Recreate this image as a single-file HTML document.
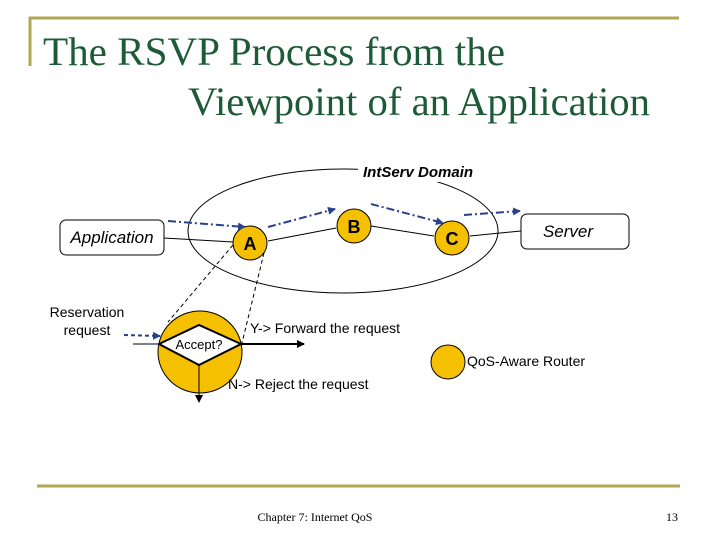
<!DOCTYPE html>
<html><head><meta charset="utf-8"><style>
html,body{margin:0;padding:0;background:#fff;}
svg{display:block;}
</style></head><body>
<svg width="720" height="540" viewBox="0 0 720 540" xmlns="http://www.w3.org/2000/svg">
<defs>
<marker id="ab" markerWidth="8" markerHeight="8" refX="7" refY="4" orient="auto" markerUnits="userSpaceOnUse"><path d="M0,0 L8,4 L0,8 z" fill="#2a3f8f"/></marker>
<marker id="ak" markerWidth="8" markerHeight="8" refX="7" refY="4" orient="auto" markerUnits="userSpaceOnUse"><path d="M0,0 L8,4 L0,8 z" fill="#000"/></marker>
</defs>
<line x1="29" y1="18" x2="679" y2="18" stroke="#b3a757" stroke-width="3"/>
<line x1="30" y1="17" x2="30" y2="66" stroke="#b3a757" stroke-width="3"/>
<text x="43" y="65" font-family="Liberation Serif, serif" font-size="40" fill="#1d5a36" textLength="462" lengthAdjust="spacingAndGlyphs">The RSVP Process from the</text>
<text x="188" y="115" font-family="Liberation Serif, serif" font-size="40" fill="#1d5a36" textLength="462" lengthAdjust="spacingAndGlyphs">Viewpoint of an Application</text>

<ellipse cx="343" cy="231" rx="155" ry="62" fill="none" stroke="#000" stroke-width="1"/>
<rect x="358" y="160" width="140" height="22" fill="#fff"/>
<text x="363" y="177" font-family="Liberation Sans, sans-serif" font-size="15" font-weight="bold" font-style="italic">IntServ Domain</text>

<rect x="60" y="220" width="104" height="35" rx="6" fill="#fff" stroke="#000"/>
<text x="112" y="243" text-anchor="middle" font-family="Liberation Sans, sans-serif" font-size="17" font-style="italic">Application</text>
<rect x="521" y="214" width="108" height="35" rx="6" fill="#fff" stroke="#000"/>
<text x="568" y="237" text-anchor="middle" font-family="Liberation Sans, sans-serif" font-size="17" font-style="italic">Server</text>

<g stroke="#000" stroke-width="1">
<line x1="164" y1="238" x2="233" y2="242"/>
<line x1="268" y1="241" x2="336" y2="228"/>
<line x1="371" y1="226" x2="434" y2="236"/>
<line x1="470" y1="236" x2="521" y2="231"/>
</g>

<ellipse cx="200" cy="352" rx="42" ry="41" fill="#f5c000" stroke="#000"/>
<ellipse cx="250" cy="243" rx="17" ry="17" fill="#f5c000" stroke="#000"/>
<ellipse cx="354" cy="226" rx="17" ry="17" fill="#f5c000" stroke="#000"/>
<ellipse cx="452" cy="238" rx="17" ry="17" fill="#f5c000" stroke="#000"/>
<ellipse cx="448" cy="362" rx="17" ry="17" fill="#f5c000" stroke="#000"/>

<g font-family="Liberation Sans, sans-serif" font-size="18" font-weight="bold" text-anchor="middle">
<text x="250" y="250">A</text><text x="354" y="233">B</text><text x="452" y="245">C</text>
</g>

<g stroke="#000" stroke-dasharray="4,3" fill="none">
<line x1="233" y1="245" x2="168" y2="322"/>
<line x1="264" y1="253" x2="242" y2="343"/>
</g>

<polygon points="159,344 199,325 241,344 199,365" fill="#fff" stroke="#000" stroke-width="2"/>
<text x="199" y="349" text-anchor="middle" font-family="Liberation Sans, sans-serif" font-size="13">Accept?</text>
<line x1="133" y1="344" x2="159" y2="344" stroke="#000"/>
<line x1="241" y1="344" x2="304" y2="344" stroke="#000" stroke-width="2" marker-end="url(#ak)"/>
<line x1="199" y1="365" x2="199" y2="402" stroke="#000" marker-end="url(#ak)"/>

<g stroke="#2a3f8f" stroke-width="2" stroke-dasharray="8,3,2,3" fill="none" marker-end="url(#ab)">
<line x1="168" y1="221" x2="245" y2="227"/>
<line x1="268" y1="227" x2="335" y2="209"/>
<line x1="371" y1="204" x2="443" y2="223"/>
<line x1="464" y1="215" x2="520" y2="211"/>
</g>
<line x1="124" y1="335" x2="160" y2="336" stroke="#2a3f8f" stroke-width="2" stroke-dasharray="4,3" marker-end="url(#ab)"/>

<g font-family="Liberation Sans, sans-serif" font-size="14">
<text x="87" y="317" text-anchor="middle">Reservation</text>
<text x="87" y="335" text-anchor="middle">request</text>
<text x="250" y="333">Y-&gt; Forward the request</text>
<text x="228" y="389">N-&gt; Reject the request</text>
<text x="467" y="366">QoS-Aware Router</text>
</g>

<line x1="37" y1="486" x2="680" y2="486" stroke="#b3a757" stroke-width="3"/>
<text x="315" y="521" text-anchor="middle" font-family="Liberation Serif, serif" font-size="12">Chapter 7: Internet QoS</text>
<text x="672" y="521" text-anchor="middle" font-family="Liberation Serif, serif" font-size="12">13</text>
</svg>
</body></html>
